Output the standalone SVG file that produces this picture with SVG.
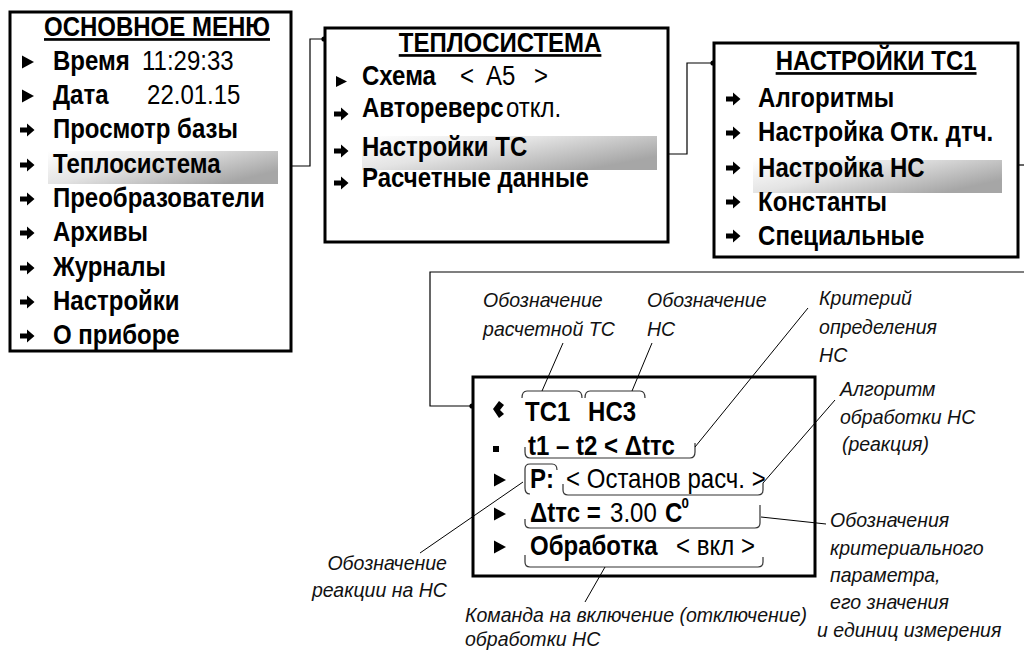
<svg xmlns="http://www.w3.org/2000/svg" width="1024" height="650" viewBox="0 0 1024 650">
<style>
.box{fill:#fff;stroke:#000;stroke-width:3}
.t{font-family:"Liberation Sans",Arial,sans-serif;font-size:27px;fill:#000}
.b{font-weight:bold}
.ttl{font-family:"Liberation Sans",Arial,sans-serif;font-size:27px;font-weight:bold;text-decoration:underline;text-anchor:middle}
.n{font-family:"Liberation Sans",Arial,sans-serif;font-size:21px;font-style:italic;fill:#111}
.con{fill:none;stroke:#000;stroke-width:1.2}
.ann{fill:none;stroke:#000;stroke-width:1}
.br{fill:none;stroke:#333;stroke-width:1.2}
</style>
<defs>
<linearGradient id="hl" x1="0" y1="0" x2="1" y2="0.6">
<stop offset="0" stop-color="#ffffff"/>
<stop offset="0.45" stop-color="#e4e4e4"/>
<stop offset="1" stop-color="#a6a6a6"/>
</linearGradient>
<path id="arr" d="M-7,-2.6 H0 V-6.5 L7.5,0 L0,6.5 V2.6 H-7 Z"/>
<path id="tri" d="M-5,-6.5 L7,0 L-5,6.5 Z"/>
<marker id="dot" viewBox="-3 -3 6 6" markerWidth="6" markerHeight="6" markerUnits="userSpaceOnUse">
<circle r="2.6" fill="#000"/>
</marker>
</defs>
<rect width="1024" height="650" fill="#fff"/>

<g id="connectors">
<path class="con" d="M278,166 H310 V39 H324" marker-start="url(#dot)" marker-end="url(#dot)"/>
<path class="con" d="M657,154 H687 V63 H713" marker-start="url(#dot)" marker-end="url(#dot)"/>
<path class="con" d="M1003,165 H1026" marker-start="url(#dot)"/>
<path class="con" d="M1026,272 H430 V406 H472" stroke="#555" marker-end="url(#dot)"/>
</g>

<g id="main-menu">
<rect class="box" x="10" y="12" width="281" height="339"/>
<rect x="48" y="151" width="230" height="33" fill="url(#hl)"/>
<use href="#tri" x="27" y="62"/>
<use href="#tri" x="27" y="96"/>
<use href="#arr" x="27" y="130"/>
<use href="#arr" x="27" y="165"/>
<use href="#arr" x="27" y="199"/>
<use href="#arr" x="27" y="233"/>
<use href="#arr" x="27" y="268"/>
<use href="#arr" x="27" y="302"/>
<use href="#arr" x="27" y="336"/>
<g transform="scale(0.889,1)">
<text class="ttl" x="176.6" y="36">ОСНОВНОЕ МЕНЮ</text>
<text class="t" x="59.6" y="70"><tspan class="b">Время</tspan><tspan x="159.75">11:29:33</tspan></text>
<text class="t" x="59.6" y="104"><tspan class="b">Дата</tspan><tspan x="165.4">22.01.15</tspan></text>
<text class="t b" x="59.6" y="138">Просмотр базы</text>
<text class="t b" x="59.6" y="173">Теплосистема</text>
<text class="t b" x="59.6" y="207">Преобразователи</text>
<text class="t b" x="59.6" y="241">Архивы</text>
<text class="t b" x="59.6" y="276">Журналы</text>
<text class="t b" x="59.6" y="310">Настройки</text>
<text class="t b" x="59.6" y="344">О приборе</text>
</g>
</g>

<g id="heat-system">
<rect class="box" x="325" y="28" width="343" height="214"/>
<rect x="362" y="136" width="295" height="34" fill="url(#hl)"/>
<path d="M336,76 L347,81.5 L336,87 Z"/>
<use href="#arr" x="341" y="114"/>
<use href="#arr" x="341" y="151"/>
<use href="#arr" x="341" y="183"/>
<g transform="scale(0.889,1)">
<text class="ttl" x="562.5" y="52">ТЕПЛОСИСТЕМА</text>
<text class="t" x="407.25" y="85"><tspan class="b">Схема</tspan><tspan x="517.5">&lt;</tspan><tspan x="546.75">A5</tspan><tspan x="600.75">&gt;</tspan></text>
<text class="t" x="407.25" y="117"><tspan class="b">Автореверс</tspan><tspan x="569.25">откл.</tspan></text>
<text class="t b" x="407.25" y="156">Настройки ТС</text>
<text class="t b" x="407.25" y="187">Расчетные данные</text>
</g>
</g>

<g id="tc1-settings">
<rect class="box" x="714" y="43" width="304" height="214"/>
<rect x="753" y="160" width="249" height="33" fill="url(#hl)"/>
<use href="#arr" x="733" y="99"/>
<use href="#arr" x="733" y="133"/>
<use href="#arr" x="733" y="168"/>
<use href="#arr" x="733" y="202"/>
<use href="#arr" x="733" y="236"/>
<g transform="scale(0.889,1)">
<text class="ttl" x="985.5" y="70">НАСТРОЙКИ ТС1</text>
<text class="t b" x="852.75" y="107">Алгоритмы</text>
<text class="t b" x="852.75" y="141">Настройка Отк. дтч.</text>
<text class="t b" x="852.75" y="177">Настройка НС</text>
<text class="t b" x="852.75" y="211">Константы</text>
<text class="t b" x="852.75" y="245">Специальные</text>
</g>
</g>

<g id="hs-settings">
<rect class="box" x="473" y="377" width="342" height="199"/>
<path d="M499,401 L504,405 L500,410 L504,414 L499,418 L493,409 Z" fill="#000"/>
<rect x="493" y="446" width="6" height="6" fill="#000"/>
<use href="#tri" x="499" y="480"/>
<use href="#tri" x="499" y="514"/>
<use href="#tri" x="499" y="547"/>
<g transform="scale(0.889,1)">
<text class="t b" x="590.6" y="421">ТС1</text>
<text class="t b" x="661.5" y="421">НС3</text>
<text class="t b" x="594" y="455">t1 – t2 &lt; Δtтс</text>
<text class="t" x="596.25" y="488"><tspan class="b">P:</tspan><tspan x="636.75">&lt; Останов расч. &gt;</tspan></text>
<text class="t" x="596.25" y="522"><tspan class="b">Δtтс =</tspan><tspan x="686.25">3.00</tspan><tspan x="748.1" class="b">C</tspan><tspan x="766.5" y="508" class="b" font-size="15">0</tspan></text>
<text class="t" x="596.25" y="555"><tspan class="b">Обработка</tspan><tspan x="760.5">&lt; вкл &gt;</tspan></text>
</g>
<path class="br" d="M522,398 Q522,391 527,391 H577 Q582,391 582,398"/>
<path class="br" d="M585,398 Q585,391 590,391 H640 Q645,391 645,398"/>
<path class="br" d="M525,447 V452 Q525,458 530,458 H690 Q695,458 695,452 V443"/>
<path class="br" d="M557,470 Q557,464 552,464 H530 Q525,464 525,469 V488 Q525,494 530,494"/>
<path class="br" d="M563,484 V490 Q563,495 568,495 H758 Q763,495 763,490 V483"/>
<path class="br" d="M525,519 V523 Q525,528 530,528 H755 Q760,528 760,523 V505"/>
<path class="br" d="M525,555 V562 Q525,567 530,567 H758 Q763,567 763,562 V557"/>
</g>

<g id="annotations">
<path class="ann" d="M563,343 L542,391"/>
<path class="ann" d="M652,343 L632,391"/>
<path class="ann" d="M808,308 L695,447"/>
<path class="ann" d="M835,400 L763,483"/>
<path class="ann" d="M761,517 L826,524"/>
<path class="ann" d="M420,553 L523,482"/>
<path class="ann" d="M605,567 L585,602"/>
<g transform="scale(0.93,1)">
<text class="n" x="519.4" y="307">Обозначение</text>
<text class="n" x="519.4" y="336">расчетной ТС</text>
<text class="n" x="695.7" y="307">Обозначение</text>
<text class="n" x="695.7" y="336">НС</text>
<text class="n" x="880.7" y="305">Критерий</text>
<text class="n" x="880.7" y="334">определения</text>
<text class="n" x="880.7" y="362">НС</text>
<text class="n" x="903.2" y="396">Алгоритм</text>
<text class="n" x="903.2" y="424">обработки НС</text>
<text class="n" x="905.4" y="451">(реакция)</text>
<text class="n" x="892.5" y="527">Обозначения</text>
<text class="n" x="892.5" y="555">критериального</text>
<text class="n" x="892.5" y="582">параметра,</text>
<text class="n" x="892.5" y="609">его значения</text>
<text class="n" x="878.5" y="637">и единиц измерения</text>
<text class="n" x="480.6" y="570" text-anchor="end">Обозначение</text>
<text class="n" x="480.6" y="597" text-anchor="end">реакции на НС</text>
<text class="n" x="500" y="622">Команда на включение (отключение)</text>
<text class="n" x="500" y="646">обработки НС</text>
</g>
</g>
</svg>
